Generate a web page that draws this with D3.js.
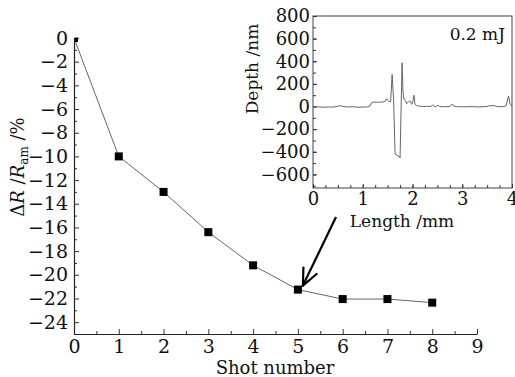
<!DOCTYPE html>
<html><head><meta charset="utf-8">
<script src="https://cdn.jsdelivr.net/npm/d3@7"></script>
<style>
body{margin:0;background:#fff;}
svg{display:block;}
</style></head>
<body><svg id="c" width="515" height="377"></svg>
<script>
// Main chart data
const shots = [0, 1, 2, 3, 4, 5, 6, 7, 8];
const deltaR = [0, -10, -13, -16.4, -19.2, -21.25, -22.05, -22.05, -22.35];
const mainXTicks = [0, 1, 2, 3, 4, 5, 6, 7, 8, 9];
const mainYTicks = [0, -2, -4, -6, -8, -10, -12, -14, -16, -18, -20, -22, -24];

// Inset profile data (0.2 mJ)
const profLength = [0, 0.1, 0.2, 0.3, 0.4, 0.5, 0.55, 0.6, 0.7, 0.8, 0.9, 1.0, 1.1, 1.15, 1.18, 1.22, 1.3, 1.4, 1.45, 1.48, 1.5, 1.53, 1.56, 1.59, 1.62, 1.65, 1.7, 1.73, 1.75, 1.79, 1.81, 1.83, 1.86, 1.88, 1.92, 1.95, 1.98, 2.0, 2.03, 2.05, 2.08, 2.12, 2.2, 2.3, 2.37, 2.4, 2.43, 2.48, 2.51, 2.55, 2.65, 2.75, 2.8, 2.83, 2.88, 3.0, 3.1, 3.2, 3.3, 3.4, 3.5, 3.55, 3.58, 3.62, 3.7, 3.8, 3.88, 3.93, 3.96, 4.0];
const profDepth  = [-5, -3, -6, -4, -5, 3, 8, 0, -4, -2, -6, -5, -3, 5, 35, 40, 38, 40, 45, 70, 55, 45, 40, 284, 60, -420, -434, -440, -455, 387, 120, 64, 55, 26, 40, 50, 20, 30, 100, 20, 10, 5, 0, 2, 0, 15, 2, 0, 12, 0, -2, 0, 22, 5, 0, -3, -2, 0, -4, -2, 0, 8, 5, 10, 0, -2, 5, 93, 20, 5];
const insetXTicks = [0, 1, 2, 3, 4];
const insetYTicks = [-600, -400, -200, 0, 200, 400, 600, 800];
const insetLabel = "0.2 mJ";

const svg = d3.select("#c");
const serif = "'DejaVu Serif', serif";

function styleTicks(g, size) {
  g.attr("font-family", null).attr("font-size", null);
  g.selectAll("text").style("font-family", serif).style("font-size", size + "px").attr("fill", "#111");
}

// ----- Main chart -----
const x = d3.scaleLinear().domain([0, 9]).range([74, 477]);
const y = d3.scaleLinear().domain([-25, 0]).range([334, 38]);

// minor ticks
svg.append("g").attr("transform", `translate(0,${y(-25)})`)
  .call(d3.axisBottom(x).tickValues(d3.range(0.5, 9, 1)).tickSize(-3).tickFormat("").tickSizeOuter(0))
  .call(g => g.select(".domain").remove());
svg.append("g").attr("transform", `translate(${x(0)},0)`)
  .call(d3.axisLeft(y).tickValues(d3.range(-25, 0, 2)).tickSize(-3).tickFormat("").tickSizeOuter(0))
  .call(g => g.select(".domain").remove());

const xAxis = svg.append("g").attr("transform", `translate(0,${y(-25)})`)
  .call(d3.axisBottom(x).tickValues(mainXTicks).tickSize(-5).tickSizeOuter(0).tickPadding(6).tickFormat(d3.format("d")));
styleTicks(xAxis, 19);
const yAxis = svg.append("g").attr("transform", `translate(${x(0)},0)`)
  .call(d3.axisLeft(y).tickValues(mainYTicks).tickSize(-5).tickSizeOuter(0).tickPadding(6)
    .tickFormat(d => d < 0 ? "\u2212" + Math.abs(d) : d));
styleTicks(yAxis, 19);
svg.selectAll(".domain, .tick line").attr("stroke", "#222").attr("stroke-width", 1.2);

// clip
svg.append("clipPath").attr("id", "mclip").append("rect")
  .attr("x", x(0) + 0.6).attr("y", y(0) - 0.5).attr("width", x(9) - x(0)).attr("height", y(-25) - y(0));

const pts = shots.map((s, i) => [s, deltaR[i]]);
svg.append("path").datum(pts)
  .attr("fill", "none").attr("stroke", "#666").attr("stroke-width", 1)
  .attr("d", d3.line().x(d => x(d[0])).y(d => y(d[1])));
svg.append("g").attr("clip-path", "url(#mclip)").selectAll("rect").data(pts).enter().append("rect")
  .attr("x", d => x(d[0]) - 4).attr("y", d => y(d[1]) - 4)
  .attr("width", 8).attr("height", 8).attr("fill", "#000");

// axis titles
svg.append("text").attr("x", 275).attr("y", 374).attr("text-anchor", "middle")
  .style("font-family", serif).style("font-size", "18px").attr("fill", "#111").text("Shot number");

const yt = svg.append("text").attr("transform", "translate(24,167) rotate(-90)")
  .attr("text-anchor", "middle").style("font-family", serif).style("font-size", "18px").attr("fill", "#111");
yt.append("tspan").text("\u0394");
yt.append("tspan").attr("font-style", "italic").text("R");
yt.append("tspan").text(" /");
yt.append("tspan").attr("font-style", "italic").text("R");
yt.append("tspan").style("font-size", "12px").attr("dy", 4).text("am");
yt.append("tspan").attr("dy", -4).text(" /%");

// arrow pointing to shot 5
const tipX = x(5) + 5, tipY = y(deltaR[5]) - 4;
const sx = 336, sy = 217;
const ang = Math.atan2(tipY - sy, tipX - sx);
svg.append("line").attr("x1", sx).attr("y1", sy).attr("x2", tipX).attr("y2", tipY)
  .attr("stroke", "#000").attr("stroke-width", 2.2);
[0.42, -0.42].forEach(da => {
  svg.append("line").attr("x1", tipX).attr("y1", tipY)
    .attr("x2", tipX - 18 * Math.cos(ang + da)).attr("y2", tipY - 18 * Math.sin(ang + da))
    .attr("stroke", "#000").attr("stroke-width", 2.2).attr("stroke-linecap", "round");
});

// ----- Inset -----
const xi = d3.scaleLinear().domain([0, 4]).range([313, 512]);
const yi = d3.scaleLinear().domain([-720, 800]).range([188, 16]);

svg.append("rect").attr("x", xi(0)).attr("y", yi(800)).attr("width", xi(4) - xi(0)).attr("height", yi(-720) - yi(800))
  .attr("fill", "#fff").attr("stroke", "#444").attr("stroke-width", 1);

svg.append("g").attr("transform", `translate(0,${yi(-720)})`)
  .call(d3.axisBottom(xi).tickValues(d3.range(0.25, 4, 0.25)).tickSize(-3).tickFormat("").tickSizeOuter(0))
  .call(g => g.select(".domain").remove());
svg.append("g").attr("transform", `translate(${xi(0)},0)`)
  .call(d3.axisLeft(yi).tickValues(d3.range(-700, 800, 100)).tickSize(-3).tickFormat("").tickSizeOuter(0))
  .call(g => g.select(".domain").remove());

const xia = svg.append("g").attr("transform", `translate(0,${yi(-720)})`)
  .call(d3.axisBottom(xi).tickValues(insetXTicks).tickSize(-4).tickSizeOuter(0).tickPadding(4).tickFormat(d3.format("d")));
xia.select(".domain").remove();
styleTicks(xia, 18);
const yia = svg.append("g").attr("transform", `translate(${xi(0)},0)`)
  .call(d3.axisLeft(yi).tickValues(insetYTicks).tickSize(-4).tickSizeOuter(0).tickPadding(3)
    .tickFormat(d => d < 0 ? "\u2212" + Math.abs(d) : d));
yia.select(".domain").remove();
styleTicks(yia, 18);
svg.selectAll(".tick line").attr("stroke", "#333").attr("stroke-width", 1);

const prof = profLength.map((l, i) => [l, profDepth[i]]);
svg.append("path").datum(prof).attr("fill", "none").attr("stroke", "#666").attr("stroke-width", 1)
  .attr("d", d3.line().x(d => xi(d[0])).y(d => yi(d[1])));

svg.append("text").attr("x", 505).attr("y", 40).attr("text-anchor", "end")
  .style("font-family", serif).style("font-size", "17px").attr("fill", "#111").text(insetLabel);
svg.append("text").attr("x", 402).attr("y", 227).attr("text-anchor", "middle")
  .style("font-family", serif).style("font-size", "17px").attr("fill", "#111").text("Length /mm");
svg.append("text").attr("transform", "translate(258,69) rotate(-90)").attr("text-anchor", "middle")
  .style("font-family", serif).style("font-size", "17px").attr("fill", "#111").text("Depth /nm");
</script></body></html>
